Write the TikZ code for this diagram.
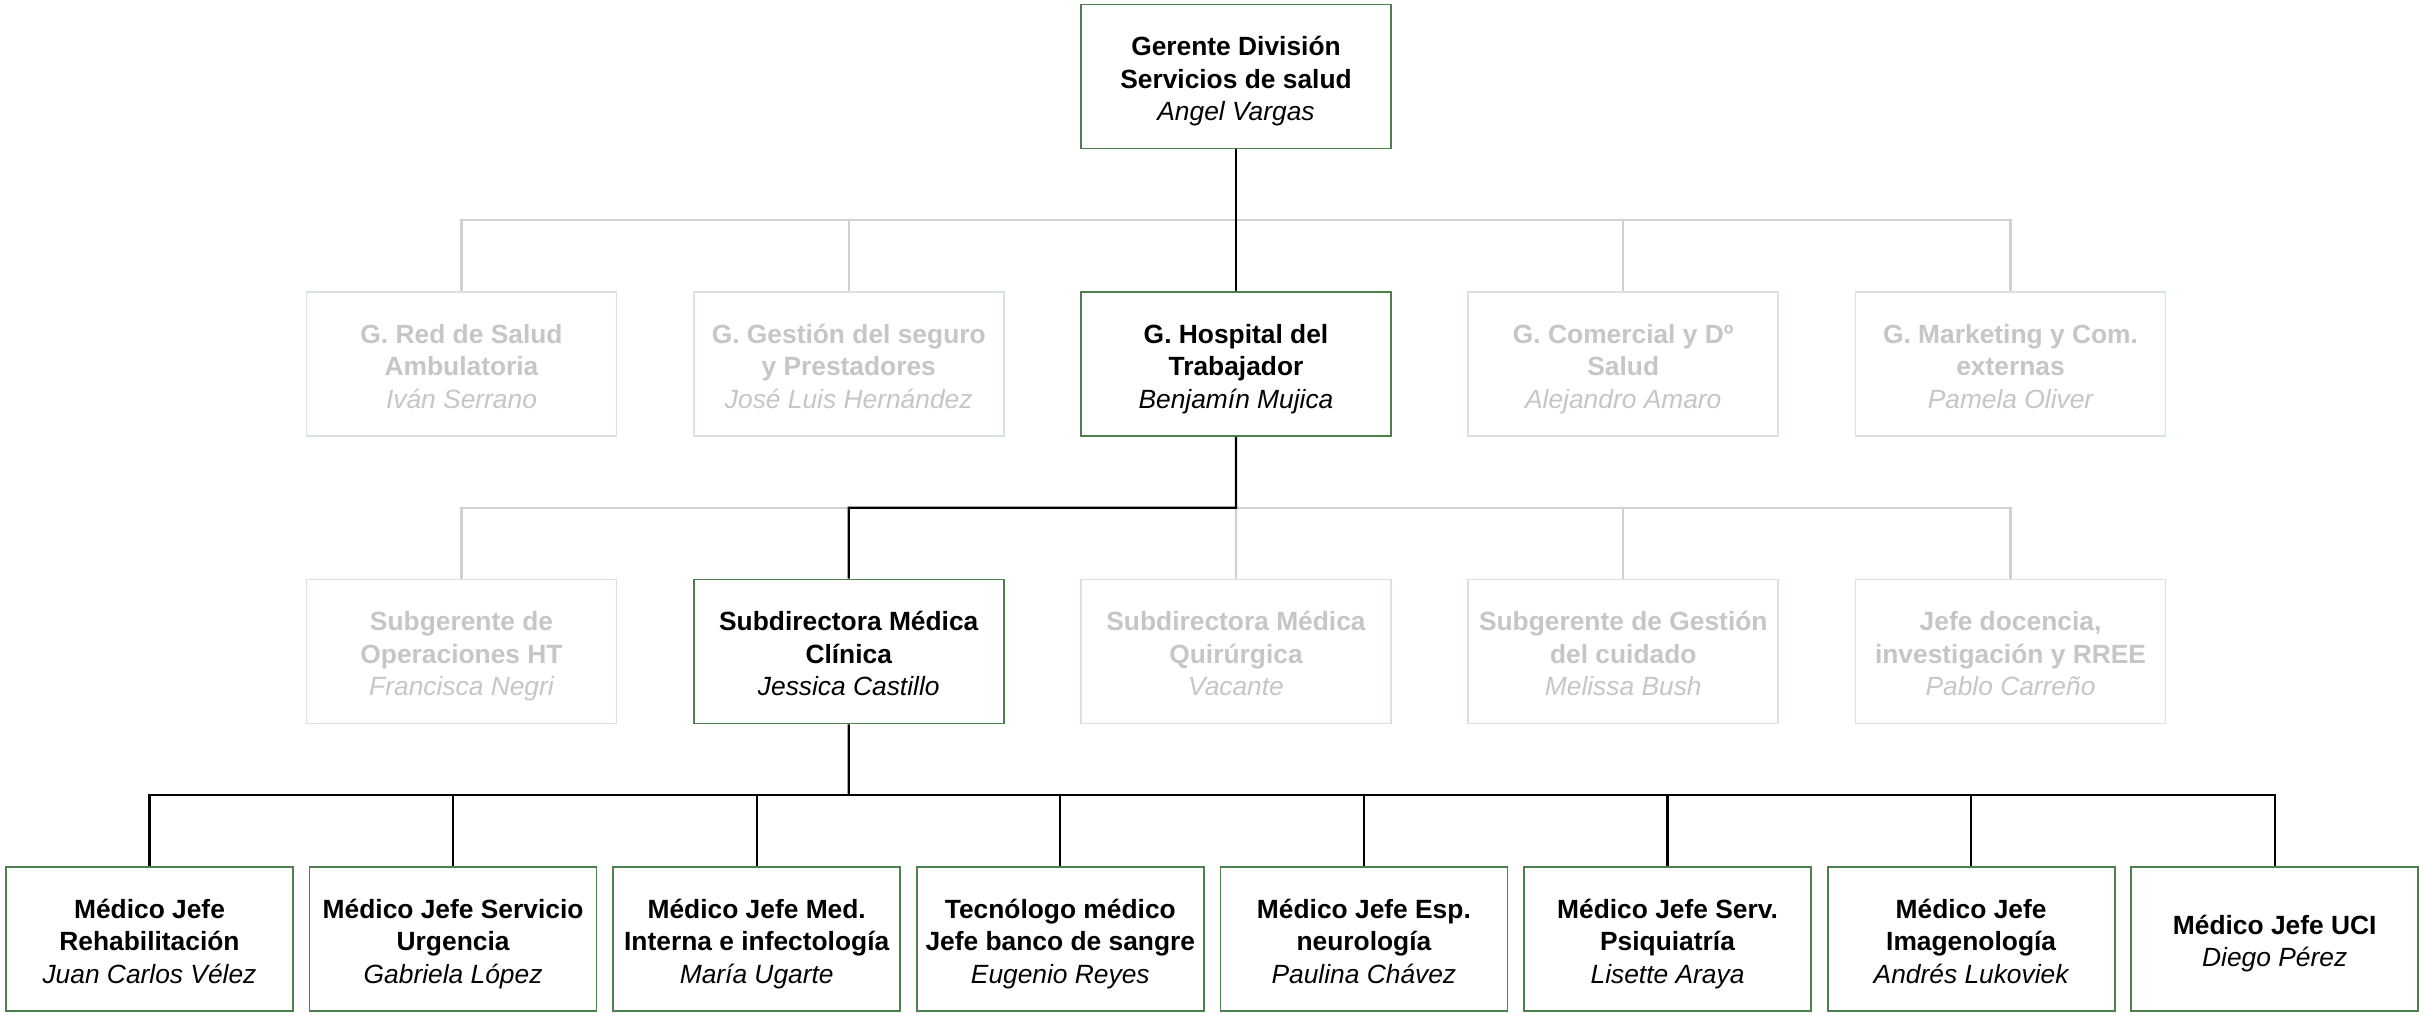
\documentclass[tikz,border=0pt]{standalone}
\usepackage{fontspec}
\setmainfont{Liberation Sans}
\usepackage{xcolor}
\usepackage{tikz}
\usetikzlibrary{
    shapes,
    positioning,
    calc
}
\definecolor{verde}{RGB}{78,128,78}
\definecolor{bordeoff}{RGB}{216,228,216}
\definecolor{lineaoff}{RGB}{208,208,208}
\definecolor{textooff}{RGB}{198,198,198}
\newcommand{\puesto}[2]{\rule{0pt}{8.4pt}#1\\{\mdseries\itshape #2}\rule[-1.7pt]{0pt}{1.7pt}}
\tikzset{
  box/.style = {
      draw=verde,
      line width=0.5pt,
      rectangle,
      fill=white,
      minimum width=3.1cm,
      minimum height=1.44cm,
      inner sep=0pt,
      align=center,
      font=\fontsize{7.5}{9.2}\selectfont\bfseries
  },
  off/.style = {
      box,
      draw=bordeoff,
      text=textooff
  },
  jefe/.style = {
      box,
      minimum width=2.87cm
  },
  link/.style = {
      line width=0.6pt,
      black
  },
  faint/.style = {
      line width=0.6pt,
      lineaoff
  }
}

\begin{document}
\begin{tikzpicture}[node distance=2.875cm]
        \useasboundingbox (0,0) rectangle (24.2,-10.12);
        \node[box] at (12.36,-0.765) (top) {\puesto{Gerente División\\Servicios de salud}{Angel Vargas}};
        % Gerencias
        \node[box, below of=top] (hosp) {\puesto{G. Hospital del\\Trabajador}{Benjamín Mujica}};
        \node[off, left of=hosp, node distance=3.8725cm] (seg) {\puesto{G. Gestión del seguro\\y Prestadores}{José Luis Hernández}};
        \node[off, left of=seg, node distance=3.8725cm] (red) {\puesto{G. Red de Salud\\Ambulatoria}{Iván Serrano}};
        \node[off, right of=hosp, node distance=3.8725cm] (com) {\puesto{G. Comercial y Dº\\Salud}{Alejandro Amaro}};
        \node[off, right of=com, node distance=3.8725cm] (mkt) {\puesto{G. Marketing y Com.\\externas}{Pamela Oliver}};
        % Subgerencias
        \node[off, below of=red] (oper) {\puesto{Subgerente de\\Operaciones HT}{Francisca Negri}};
        \node[box, below of=seg] (clin) {\puesto{Subdirectora Médica\\Clínica}{Jessica Castillo}};
        \node[off, below of=hosp] (quir) {\puesto{Subdirectora Médica\\Quirúrgica}{Vacante}};
        \node[off, below of=com] (cuid) {\puesto{Subgerente de Gestión\\del cuidado}{Melissa Bush}};
        \node[off, below of=mkt] (doc) {\puesto{Jefe docencia,\\investigación y RREE}{Pablo Carreño}};
        % Jefaturas
        \node[jefe] at (1.495,-9.39) (rehab) {\puesto{Médico Jefe\\Rehabilitación}{Juan Carlos Vélez}};
        \node[jefe, right of=rehab, node distance=3.036cm] (urg) {\puesto{Médico Jefe Servicio\\Urgencia}{Gabriela López}};
        \node[jefe, right of=urg, node distance=3.036cm] (inter) {\puesto{Médico Jefe Med.\\Interna e infectología}{María Ugarte}};
        \node[jefe, right of=inter, node distance=3.036cm] (sangre) {\puesto{Tecnólogo médico\\Jefe banco de sangre}{Eugenio Reyes}};
        \node[jefe, right of=sangre, node distance=3.036cm] (neuro) {\puesto{Médico Jefe Esp.\\neurología}{Paulina Chávez}};
        \node[jefe, right of=neuro, node distance=3.036cm] (psiq) {\puesto{Médico Jefe Serv.\\Psiquiatría}{Lisette Araya}};
        \node[jefe, right of=psiq, node distance=3.036cm] (imag) {\puesto{Médico Jefe\\Imagenología}{Andrés Lukoviek}};
        \node[jefe, right of=imag, node distance=3.036cm] (uci) {\puesto{Médico Jefe UCI}{Diego Pérez}};
        % Buses
        \coordinate (bus1) at ($(top.south)!0.5!(hosp.north)$);
        \coordinate (bus2) at ($(hosp.south)!0.5!(quir.north)$);
        \coordinate (bus3) at ($(clin.south)!0.5!(clin.south |- rehab.north)$);
        % Edges
        \draw[faint] (red.north) |- (bus1) -| (mkt.north);
        \draw[faint] (seg.north) |- (bus1);
        \draw[faint] (com.north) |- (bus1);
        \draw[faint] (oper.north) |- (bus2) -| (doc.north);
        \draw[faint] (quir.north) -- (bus2);
        \draw[faint] (cuid.north) |- (bus2);
        \draw[link] (top) -- (hosp);
        \draw[link] (hosp.south) -- (bus2) -| (clin.north);
        \draw[link] (clin.south) -- (bus3);
        \draw[link] (rehab.north) |- (bus3) -| (uci.north);
        \draw[link] (urg.north) |- (bus3);
        \draw[link] (inter.north) |- (bus3);
        \draw[link] (sangre.north) |- (bus3);
        \draw[link] (neuro.north) |- (bus3);
        \draw[link] (psiq.north) |- (bus3);
        \draw[link] (imag.north) |- (bus3);
    \end{tikzpicture}
\end{document}
